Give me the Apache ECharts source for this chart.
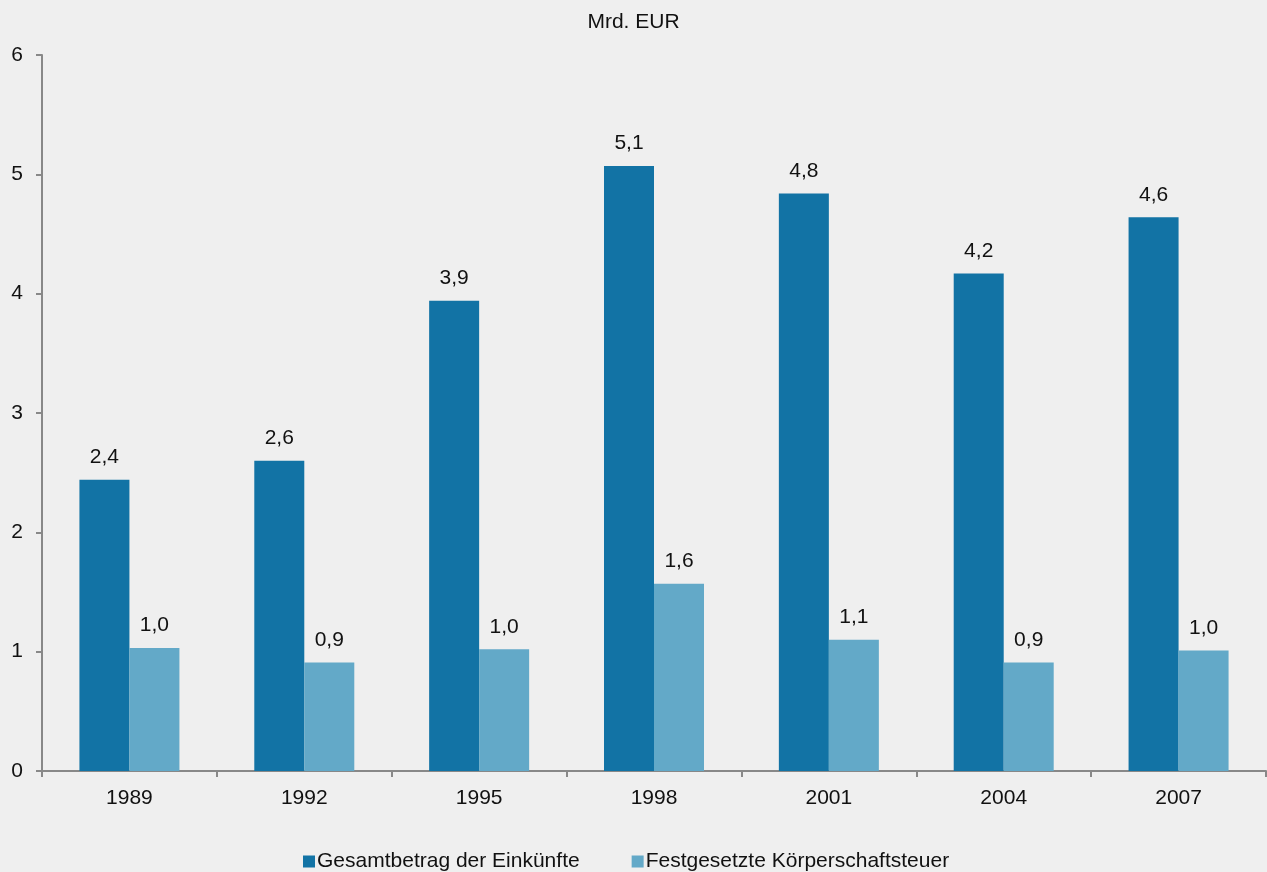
<!DOCTYPE html>
<html>
<head>
<meta charset="utf-8">
<style>
  html, body { margin: 0; padding: 0; background: #efefef; }
  #chart { width: 1267px; height: 872px; }
</style>
<script src="https://cdn.jsdelivr.net/npm/echarts@6/dist/echarts.min.js"></script>
</head>
<body>
<div id="chart"></div>
<script>
// Jahre und Werte (Mrd. EUR)
const years = ['1989', '1992', '1995', '1998', '2001', '2004', '2007'];
const einkuenfte = [2.44, 2.60, 3.94, 5.07, 4.84, 4.17, 4.64];
const koerperschaftsteuer = [1.03, 0.91, 1.02, 1.57, 1.10, 0.91, 1.01];
const seriesNames = ['Gesamtbetrag der Einkünfte', 'Festgesetzte Körperschaftsteuer'];

const font = 'Liberation Sans, Arial, Helvetica, sans-serif';
const axisColor = '#888888';
const fs = 21;

function fmt(p) {
    return p.value.toFixed(1).replace('.', ',');
}

const myChart = echarts.init(document.getElementById('chart'));

const option = {
    backgroundColor: '#efefef',
    animation: false,
    textStyle: { fontFamily: font },
    title: {
        text: 'Mrd. EUR',
        left: 'center',
        top: 7,
        textStyle: { fontFamily: font, fontSize: fs, fontWeight: 'normal', color: '#111' }
    },
    legend: {
        top: 846,
        left: 298,
        itemWidth: 12,
        itemHeight: 12,
        itemGap: 52,
        icon: 'rect',
        textStyle: { fontFamily: font, fontSize: fs, color: '#111', padding: [0, 0, 0, -3] },
        data: seriesNames
    },
    grid: { left: 42, right: 1, top: 55, bottom: 101, containLabel: false },
    xAxis: {
        type: 'category',
        data: years,
        axisLine: { lineStyle: { color: axisColor, width: 2 } },
        axisTick: { show: true, length: 6, lineStyle: { color: axisColor, width: 2 } },
        axisLabel: { fontFamily: font, fontSize: fs, color: '#111', margin: 17 }
    },
    yAxis: {
        type: 'value',
        min: 0,
        max: 6,
        interval: 1,
        axisLine: { show: true, lineStyle: { color: axisColor, width: 2 } },
        axisTick: { show: true, length: 6, lineStyle: { color: axisColor, width: 2 } },
        splitLine: { show: false },
        axisLabel: { fontFamily: font, fontSize: fs, color: '#111', margin: 19 }
    },
    series: [
        {
            name: seriesNames[0],
            type: 'bar',
            data: einkuenfte,
            barWidth: 50,
            barGap: '0%',
            itemStyle: { color: '#1273a5' },
            label: {
                show: true, position: 'top', distance: 12, formatter: fmt,
                fontFamily: font, fontSize: fs, color: '#111'
            }
        },
        {
            name: seriesNames[1],
            type: 'bar',
            data: koerperschaftsteuer,
            barWidth: 50,
            barGap: '0%',
            itemStyle: { color: '#63a9c8' },
            label: {
                show: true, position: 'top', distance: 12, formatter: fmt,
                fontFamily: font, fontSize: fs, color: '#111'
            }
        }
    ]
};

myChart.setOption(option);
</script>
</body>
</html>
